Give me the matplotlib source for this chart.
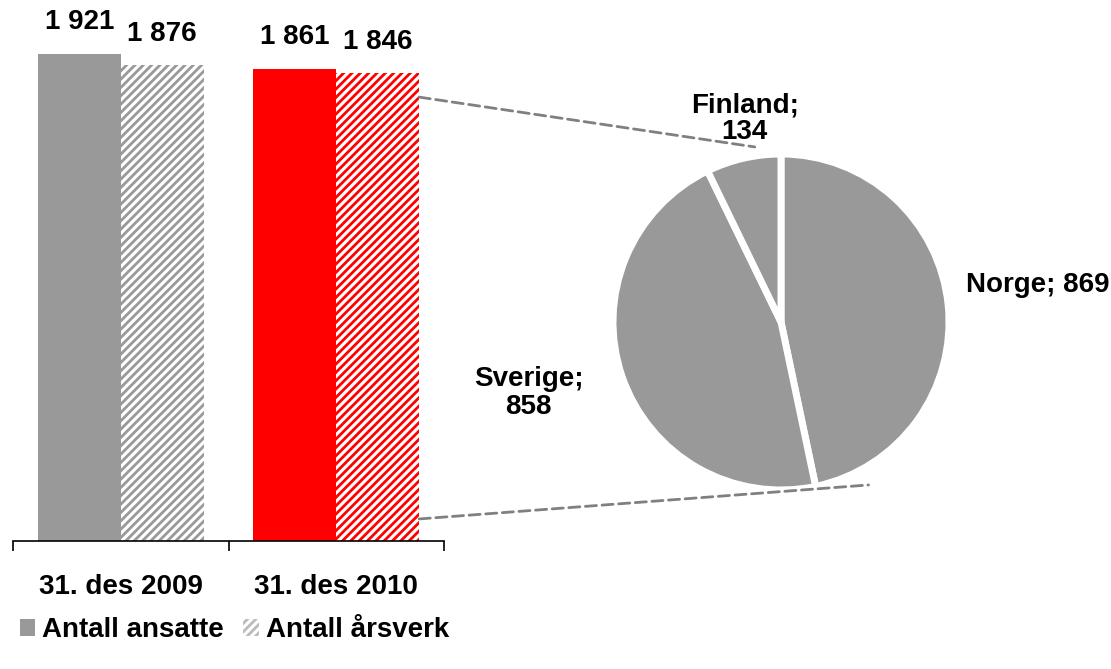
import matplotlib.pyplot as plt
from matplotlib.patches import Patch, ConnectionPatch

plt.rcParams['font.family'] = ['Liberation Sans', 'DejaVu Sans']
plt.rcParams['font.weight'] = 'bold'
plt.rcParams['hatch.linewidth'] = 2.0

# data
categories = ["31. des 2009", "31. des 2010"]
ansatte = [1921, 1861]
arsverk = [1876, 1846]
bar_colors = ["#999999", "#ff0000"]
countries = ["Norge", "Sverige", "Finland"]
country_values = [869, 858, 134]

GRAY = "#999999"
W, H = 1111, 669


def fmt(v):
    return f"{v:,}".replace(",", " ")


fig = plt.figure(figsize=(W / 100, H / 100), dpi=100)

# -------------------------
#  bars
# -------------------------
px_per_unit = 0.2535
ax = fig.add_axes([13 / W, (H - 541) / H, 431 / W, (541 - 5) / H])
ax.set_ylim(0, (541 - 5) / px_per_unit)
ax.set_xlim(-0.5, 1.5)
bw = 0.385

for i in range(len(categories)):
    ax.bar(i - bw / 2, ansatte[i], width=bw, color=bar_colors[i], linewidth=0)
    ax.bar(i + bw / 2, arsverk[i], width=bw, facecolor="white",
           edgecolor=bar_colors[i], hatch="////", linewidth=0)
    ax.annotate(fmt(ansatte[i]), (i - bw / 2, ansatte[i]), xytext=(0, 14),
                textcoords="offset points", ha="center", va="bottom", fontsize=20)
    ax.annotate(fmt(arsverk[i]), (i + bw / 2, arsverk[i]), xytext=(0, 13),
                textcoords="offset points", ha="center", va="bottom", fontsize=20)

for s in ["top", "right", "left"]:
    ax.spines[s].set_visible(False)
ax.spines["bottom"].set_linewidth(1.2)
ax.set_yticks([])
ax.set_xticks([0, 1])
ax.set_xticklabels(categories, fontsize=20, fontweight="bold")
ax.tick_params(axis="x", which="major", length=0, pad=24)
ax.set_xticks([-0.5, 0.5, 1.5], minor=True)
ax.tick_params(axis="x", which="minor", length=7, width=1.2, direction="out")

# -------------------------
#  pie
# -------------------------
r = 168
cx, cy = 781, 322
pax = fig.add_axes([(cx - r) / W, (H - cy - r) / H, 2 * r / W, 2 * r / H])
pax.pie(country_values, colors=[GRAY] * 3, startangle=90, counterclock=False,
        wedgeprops=dict(edgecolor="white", linewidth=5))
pax.set_xlim(-1, 1)
pax.set_ylim(-1, 1)
pax.set_aspect("auto")
pax.axis("off")

pax.text(1.527, 0.222, f"{countries[0]}; {country_values[0]}", ha="center",
         va="center", fontsize=20, clip_on=False)
pax.text(-1.503, -0.42, f"{countries[1]};\n{country_values[1]}", ha="center",
         va="center", fontsize=20, linespacing=1.1, clip_on=False)
pax.text(-0.216, 1.21, f"{countries[2]};\n{country_values[2]}", ha="center",
         va="center", fontsize=20, linespacing=1.0, clip_on=False)

# dashed connectors
for ya, pb in [(1751, (-0.156, 1.042)), (87, (0.521, -0.970))]:
    con = ConnectionPatch(xyA=(1 + bw, ya), coordsA=ax.transData,
                          xyB=pb, coordsB=pax.transData,
                          color="#808080", linestyle=(0, (4, 2)), linewidth=2)
    fig.add_artist(con)

# legend
handles = [Patch(facecolor=GRAY, edgecolor=GRAY, linewidth=0),
           Patch(facecolor="white", edgecolor="#bbbbbb", hatch="////", linewidth=0)]
fig.legend(handles, ["Antall ansatte", "Antall årsverk"], loc="center left",
           bbox_to_anchor=(-5 / W, (H - 630) / H), ncol=2, frameon=False,
           fontsize=20, handlelength=0.55, handleheight=0.55,
           handletextpad=0.25, columnspacing=0.7)

fig.savefig("out.png", dpi=100)
